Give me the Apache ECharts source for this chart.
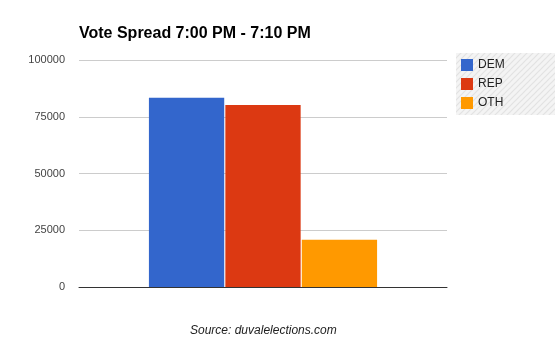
<!DOCTYPE html>
<html><head><meta charset="utf-8">
<script src="https://cdn.jsdelivr.net/npm/echarts@6/dist/echarts.min.js"></script>
<style>html,body{margin:0;padding:0;background:#fff}#c{width:555px;height:352px}</style>
</head><body><div id="c"></div>
<script>
const categories = ['Votes'];
const seriesNames = ['DEM', 'REP', 'OTH'];
const seriesValues = [[83400], [80200], [20800]];
const seriesColors = ['#3366cc', '#dc3912', '#ff9900'];
const yTicks = [0, 25000, 50000, 75000, 100000];

const cv = document.createElement('canvas');
cv.width = 6; cv.height = 6;
const g = cv.getContext('2d');
g.fillStyle = '#f4f4f4'; g.fillRect(0,0,6,6);
g.strokeStyle = '#e2e2e2'; g.lineWidth = 1.2;
g.beginPath(); g.moveTo(0,6); g.lineTo(6,0); g.moveTo(-3,3); g.lineTo(3,-3); g.moveTo(3,9); g.lineTo(9,3); g.stroke();

const chart = echarts.init(document.getElementById('c'), null, {renderer:'canvas'});
chart.setOption({
  animation: false,
  title: {
    text: 'Vote Spread 7:00 PM - 7:10 PM',
    left: 74, top: 21,
    textStyle: {fontFamily: 'Liberation Sans, Arial', fontSize: 16, fontWeight: 'bold', color: '#000'}
  },
  legend: {
    orient: 'vertical', left: 456, top: 53,
    padding: [6, 60, 6, 5],
    itemWidth: 12, itemHeight: 12, itemGap: 7,
    icon: 'rect',
    backgroundColor: {image: cv, repeat: 'repeat'},
    textStyle: {fontFamily: 'Liberation Sans, Arial', fontSize: 12, color: '#222'},
    data: seriesNames
  },
  grid: {left: 79, right: 108, top: 60, bottom: 65, containLabel: false},
  xAxis: {
    type: 'category', data: categories,
    axisLine: {lineStyle: {color: '#333'}},
    axisTick: {show: false}, axisLabel: {show: false}
  },
  yAxis: {
    type: 'value', min: yTicks[0], max: yTicks[yTicks.length-1], interval: 25000,
    axisLine: {show: false}, axisTick: {show: false},
    splitLine: {lineStyle: {color: '#cccccc'}},
    axisLabel: {fontFamily: 'Liberation Sans, Arial', fontSize: 11, color: '#444', margin: 14,
      formatter: v => String(v)}
  },
  graphic: [{
    type: 'text', left: 190, top: 325,
    style: {text: 'Source: duvalelections.com', font: 'italic 12px "Liberation Sans", Arial', fill: '#222'}
  }],
  series: seriesNames.map((n, i) => ({
    name: n, type: 'bar', data: seriesValues[i],
    itemStyle: {color: seriesColors[i]},
    barCategoryGap: '38%', barGap: '1.5%'
  }))
});
</script></body></html>
